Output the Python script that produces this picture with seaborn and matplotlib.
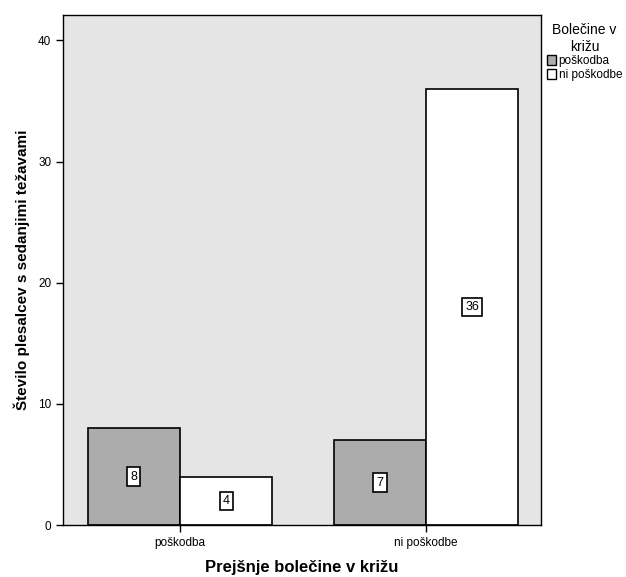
import matplotlib
matplotlib.use('Agg')
import matplotlib.pyplot as plt
import pandas as pd
import seaborn as sns

# data
categories = ['poškodba', 'ni poškodbe']
hue_levels = ['poškodba', 'ni poškodbe']
counts_poskodba = [8, 7]       # hue "poškodba" for each x category
counts_ni_poskodbe = [4, 36]   # hue "ni poškodbe" for each x category

df = pd.DataFrame({
    'prej': categories * 2,
    'bol': [hue_levels[0]] * 2 + [hue_levels[1]] * 2,
    'n': counts_poskodba + counts_ni_poskodbe,
})

sns.set_style('ticks')
plt.rcParams['font.family'] = ['Liberation Sans', 'DejaVu Sans']
plt.rcParams['text.color'] = 'black'
plt.rcParams['axes.labelcolor'] = 'black'
plt.rcParams['xtick.color'] = 'black'
plt.rcParams['ytick.color'] = 'black'

fig = plt.figure(figsize=(6.26, 5.77), dpi=100)
ax = fig.add_axes([0.1006, 0.0901, 0.7634, 0.8839])
ax.set_facecolor('#e5e5e5')

sns.barplot(data=df, x='prej', y='n', hue='bol', order=categories, hue_order=hue_levels,
            palette=['#acacac', 'white'], width=0.75, edgecolor='black', linewidth=1.2,
            ax=ax, legend=True)

# value labels in white boxes at mid-height
for cont in ax.containers:
    for rect in cont:
        h = rect.get_height()
        ax.text(rect.get_x() + rect.get_width() / 2, h / 2, f'{int(h)}',
                ha='center', va='center', fontsize=9, color='black',
                bbox=dict(boxstyle='square,pad=0.25', fc='white', ec='black', lw=1.2))

ax.set_xlim(-0.476, 1.467)
ax.set_ylim(0, 42.1)
ax.set_yticks([0, 10, 20, 30, 40])
ax.tick_params(axis='both', direction='out', length=5, width=1, labelsize=8.5, color='black',
               labelcolor='black')
for s in ax.spines.values():
    s.set_visible(True)
    s.set_color('black')
    s.set_linewidth(1)

ax.set_xlabel('Prejšnje bolečine v križu', fontsize=12, fontweight='bold', labelpad=8)
ax.set_ylabel('Število plesalcev s sedanjimi težavami', fontsize=11, fontweight='bold', labelpad=6)

leg = ax.legend(title='Bolečine v\nkrižu', loc='upper left', bbox_to_anchor=(1.0, 0.995),
                frameon=False, fontsize=8.5, title_fontsize=10, handlelength=0.8,
                handleheight=0.9, handletextpad=0.2, labelspacing=0.15, borderaxespad=0.1)
leg.get_title().set_multialignment('center')
for t in leg.get_texts():
    t.set_color('black')
for h in leg.legend_handles:
    h.set_edgecolor('black')
    h.set_linewidth(1)

fig.savefig('out.png', dpi=100)
